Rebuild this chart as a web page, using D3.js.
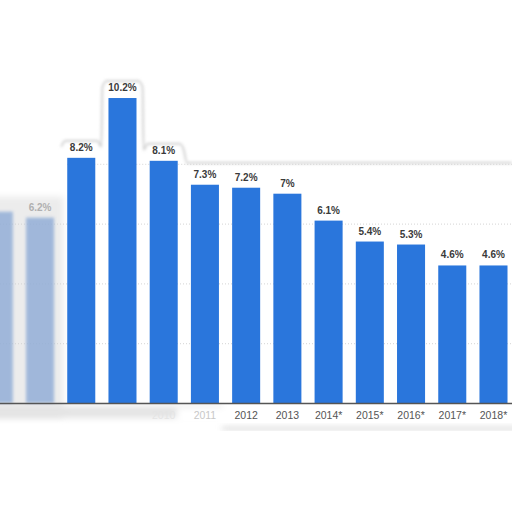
<!DOCTYPE html>
<html>
<head>
<meta charset="utf-8">
<script src="https://cdn.jsdelivr.net/npm/d3@7"></script>
<style>
  body { margin: 0; background: #fff; }
  svg { display: block; }
</style>
</head>
<body>
<svg></svg>
<script>
const width = 512;
const height = 512;

// data
const years = ["2006", "2007", "2008", "2009", "2010", "2011", "2012", "2013",
  "2014*", "2015*", "2016*", "2017*", "2018*"];
const rates = [6.4, 6.2, 8.2, 10.2, 8.1, 7.3, 7.2, 7, 6.1, 5.4, 5.3, 4.6, 4.6];
const rateLabels = ["", "6.2%", "8.2%", "10.2%", "8.1%", "7.3%", "7.2%", "7%",
  "6.1%", "5.4%", "5.3%", "4.6%", "4.6%"];
const gridValues = [2, 4, 6, 8];
// the left side of the picture is washed out
const faded = ["2006", "2007"];
const hiddenTicks = ["2006", "2007", "2008", "2009"];

const svg = d3.select("svg").attr("width", width).attr("height", height);

const defs = svg.append("defs");
defs.append("filter").attr("id", "blur")
  .attr("x", "-20%").attr("y", "-50%").attr("width", "140%").attr("height", "200%")
  .append("feGaussianBlur").attr("stdDeviation", 3);
defs.append("filter").attr("id", "blurBar")
  .attr("x", "-30%").attr("y", "-10%").attr("width", "160%").attr("height", "120%")
  .append("feGaussianBlur").attr("stdDeviation", 1.6);

const x = d3.scaleBand()
  .domain(years)
  .range([-21.8, 514.1])
  .paddingInner(0.32)
  .paddingOuter(0.16);

const y = d3.scaleLinear()
  .domain([0, 12])
  .range([403, 44.2]);

const cx = d => x(d) + x.bandwidth() / 2;

// washed-out backdrop on the left and shadow under the axis labels
svg.append("rect")
  .attr("x", -10).attr("y", y(6.9))
  .attr("width", x("2008") + 6).attr("height", y(0) - y(6.9) + 14)
  .style("fill", "#ececec")
  .attr("filter", "url(#blur)");
svg.append("rect")
  .attr("x", -10).attr("y", y(0) + 3)
  .attr("width", x("2012")).attr("height", 12)
  .style("fill", "#e4e4e4")
  .attr("filter", "url(#blur)");
svg.append("rect")
  .attr("x", x("2012") - 10).attr("y", y(0) + 22)
  .attr("width", width - x("2012") + 20).attr("height", 4)
  .style("fill", "#cfcfcf")
  .attr("filter", "url(#blur)");
svg.append("rect")
  .attr("x", x("2011") - 14).attr("y", y(0) + 4)
  .attr("width", width).attr("height", 18)
  .style("fill", "#fff")
  .attr("filter", "url(#blur)");

// dotted grid
svg.append("g")
  .selectAll("line")
  .data(gridValues)
  .join("line")
  .attr("x1", d => d === 8 ? x("2008") : 0)
  .attr("x2", width)
  .attr("y1", d => y(d) + 0.5)
  .attr("y2", d => y(d) + 0.5)
  .style("stroke", "#d4d4d4")
  .style("stroke-width", 1)
  .style("stroke-dasharray", "1,2");

// outline of the cut-out along the top
const topEdge = d3.line().curve(d3.curveMonotoneX);
const edgePts = [];
["2008", "2009", "2010"].forEach(d => {
  const top = y(rates[years.indexOf(d)]) - 17;
  edgePts.push([x(d) - 6, top + 6], [x(d) - 2, top], [x(d) + x.bandwidth() + 2, top], [x(d) + x.bandwidth() + 6, top + 6]);
});
edgePts.push([x("2011") - 4, y(8) - 1], [width, y(8) - 1]);
svg.append("path")
  .attr("d", topEdge(edgePts))
  .style("fill", "none")
  .style("stroke", "#c4c4c4")
  .style("stroke-width", 1.5)
  .attr("filter", "url(#blurBar)");

// bars
svg.append("g")
  .selectAll("rect")
  .data(years)
  .join("rect")
  .attr("x", d => x(d))
  .attr("y", (d, i) => y(rates[i]))
  .attr("width", x.bandwidth())
  .attr("height", (d, i) => y(0) - y(rates[i]))
  .style("fill", d => faded.includes(d) ? "#8eabd6" : "#2a76dc")
  .style("opacity", d => faded.includes(d) ? 0.8 : 1)
  .attr("filter", d => faded.includes(d) ? "url(#blurBar)" : null);

// value labels
svg.append("g")
  .selectAll("text")
  .data(years)
  .join("text")
  .attr("x", cx)
  .attr("y", (d, i) => y(rates[i]) - 7)
  .attr("text-anchor", "middle")
  .style("font-family", "'Liberation Sans', Arial, sans-serif")
  .style("font-size", "10px")
  .style("font-weight", "bold")
  .style("fill", d => faded.includes(d) ? "#b0b0b0" : "#3a3a3a")
  .text((d, i) => rateLabels[i]);

// x axis
const xAxis = svg.append("g")
  .attr("transform", `translate(0,${y(0)})`)
  .call(d3.axisBottom(x).tickSize(0).tickPadding(9));

xAxis.select(".domain")
  .attr("d", `M0,0.5H${width}`)
  .style("stroke", "#555")
  .style("stroke-width", 1.5);

xAxis.selectAll("text")
  .style("font-family", "'Liberation Sans', Arial, sans-serif")
  .style("font-size", "10.5px")
  .style("fill", d => d === "2010" ? "#e4e4e4" : d === "2011" ? "#c8c8c8" : "#555")
  .style("opacity", d => hiddenTicks.includes(d) ? 0 : 1);
</script>
</body>
</html>
